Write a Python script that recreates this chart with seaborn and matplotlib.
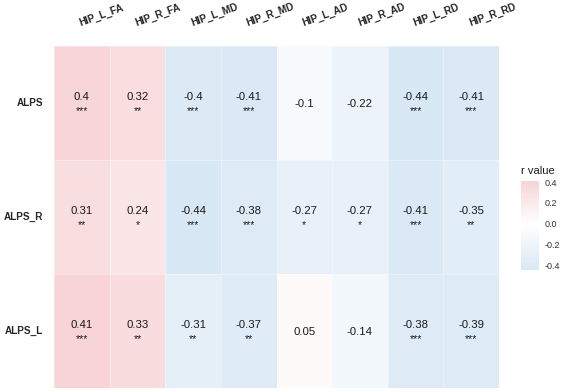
import numpy as np
import pandas as pd
import matplotlib
matplotlib.use("Agg")
import matplotlib.pyplot as plt
from matplotlib.colors import LinearSegmentedColormap
import seaborn as sns

rows = ["ALPS", "ALPS_R", "ALPS_L"]
cols = ["HIP_L_FA", "HIP_R_FA", "HIP_L_MD", "HIP_R_MD",
        "HIP_L_AD", "HIP_R_AD", "HIP_L_RD", "HIP_R_RD"]
r_alps = [0.4, 0.32, -0.4, -0.41, -0.1, -0.22, -0.44, -0.41]
r_alps_r = [0.31, 0.24, -0.44, -0.38, -0.27, -0.27, -0.41, -0.35]
r_alps_l = [0.41, 0.33, -0.31, -0.37, 0.05, -0.14, -0.38, -0.39]
sig_alps = ["***", "**", "***", "***", "", "", "***", "***"]
sig_alps_r = ["**", "*", "***", "***", "*", "*", "***", "**"]
sig_alps_l = ["***", "**", "**", "**", "", "", "***", "***"]
cbar_ticks = [-0.4, -0.2, 0.0, 0.2, 0.4]

sns.set_theme(style="white")
plt.rcParams["font.family"] = ["Liberation Sans", "DejaVu Sans"]

df = pd.DataFrame([r_alps, r_alps_r, r_alps_l], index=rows, columns=cols)
sig = [sig_alps, sig_alps_r, sig_alps_l]

vmin = float(df.values.min())
vmax = float(df.values.max())
lim = max(abs(vmin), abs(vmax))
cmap = LinearSegmentedColormap.from_list("rv", ["#D9E8F5", "#FFFFFF", "#F7D1D3"])

fig = plt.figure(figsize=(5.63, 3.91), dpi=100)
ax = fig.add_axes([54 / 563, 1 - 388 / 391, 445 / 563, 342 / 391])
cax = fig.add_axes([521 / 563, 1 - 270 / 391, 18 / 563, 89 / 391])

sns.heatmap(df, ax=ax, cbar_ax=cax, cmap=cmap, vmin=-lim, vmax=lim,
            linewidths=0.6, linecolor=(1, 1, 1, 0.35), annot=False)

for i in range(len(rows)):
    for j in range(len(cols)):
        v = df.iloc[i, j]
        s = sig[i][j]
        txt = f"{v:g}"
        if s:
            ax.annotate(txt, (j + 0.5, i + 0.5), xytext=(0, 3), textcoords="offset pixels",
                        ha="center", va="baseline", fontsize=8.2, color="#1a1a1a")
            ax.annotate(s, (j + 0.5, i + 0.5), xytext=(0, -11), textcoords="offset pixels",
                        ha="center", va="baseline", fontsize=7.6, color="#1a1a1a")
        else:
            ax.annotate(txt, (j + 0.5, i + 0.5), xytext=(0, -4), textcoords="offset pixels",
                        ha="center", va="baseline", fontsize=8.2, color="#1a1a1a")

ax.xaxis.tick_top()
ax.set_xlabel("")
ax.set_ylabel("")
ax.set_xticklabels(cols, rotation=20, ha="left", rotation_mode="anchor",
                   fontweight="bold", fontsize=7.2)
ax.set_yticklabels(rows, rotation=0, fontweight="bold", fontsize=7.2)
ax.tick_params(axis="x", length=0, pad=13)
ax.tick_params(axis="y", length=0, pad=8)
for sp in ax.spines.values():
    sp.set_visible(False)

cax.set_ylim(vmin, vmax)
cax.set_yticks(cbar_ticks)
cax.set_yticklabels([f"{t:.1f}" for t in cbar_ticks], fontsize=6.5, color="#333333")
cax.tick_params(axis="y", length=3, direction="in", color="white", pad=4, width=0.6)
for sp in cax.spines.values():
    sp.set_visible(False)
cax.set_title("r value", fontsize=8, loc="left", pad=5, color="#1a1a1a")

fig.savefig("out.png", dpi=100)
